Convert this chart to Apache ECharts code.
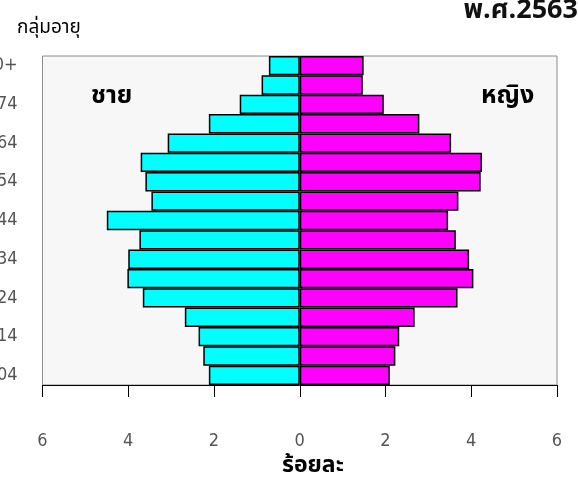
<!DOCTYPE html>
<html>
<head>
<meta charset="utf-8">
<script src="https://cdn.jsdelivr.net/npm/echarts@6/dist/echarts.min.js"></script>
<style>html,body{margin:0;padding:0;background:#fff}#c{width:578px;height:482px}</style>
</head>
<body>
<div id="c"></div>
<script>
const ageGroups = ['00-04','05-09','10-14','15-19','20-24','25-29','30-34','35-39','40-44','45-49','50-54','55-59','60-64','65-69','70-74','75-79','80+'];
const male = [2.12, 2.25, 2.36, 2.68, 3.66, 4.02, 4.00, 3.74, 4.50, 3.46, 3.60, 3.71, 3.08, 2.12, 1.40, 0.89, 0.72];
const female = [2.10, 2.23, 2.32, 2.68, 3.68, 4.05, 3.95, 3.64, 3.46, 3.70, 4.22, 4.25, 3.53, 2.79, 1.96, 1.47, 1.49];
const xTicks = [-6, 6, 2];
const titleText = 'พ.ศ.2563';
const yAxisTitle = 'กลุ่มอายุ';
const xAxisTitle = 'ร้อยละ';
const maleLabel = 'ชาย';
const femaleLabel = 'หญิง';

const thai = "'Noto Sans Thai','Noto Sans','DejaVu Sans',sans-serif";
const narrow = "'Liberation Sans Narrow','Arial Narrow','DejaVu Sans Condensed','Liberation Sans',sans-serif";

const chart = echarts.init(document.getElementById('c'), null, {renderer: 'canvas'});
chart.setOption({
  animation: false,
  backgroundColor: '#ffffff',
  grid: {left: 42.5, right: 21, top: 56, bottom: 97, containLabel: false, outerBoundsMode: 'none',
         show: true, backgroundColor: '#f7f7f7', borderColor: '#8c8c8c', borderWidth: 1},
  xAxis: {
    type: 'value', min: xTicks[0], max: xTicks[1], interval: xTicks[2],
    axisLine: {show: true, onZero: false, lineStyle: {color: '#000', width: 1}},
    axisTick: {show: true, inside: false, length: 12, lineStyle: {color: '#000'}},
    splitLine: {show: false},
    axisLabel: {margin: 47, color: '#555', fontFamily: narrow, fontSize: 18, formatter: v => String(Math.abs(v))}
  },
  yAxis: {
    type: 'category', data: ageGroups,
    axisLine: {show: false}, axisTick: {show: false},
    axisLabel: {interval: 1, margin: 25, color: '#555', fontFamily: narrow, fontSize: 18, padding: [0,0,7,0]}
  },
  series: [
    {name: 'male', type: 'bar', stack: 'p', data: male.map(v => -v), barCategoryGap: '0%',
     itemStyle: {color: '#00ffff', borderColor: '#000', borderWidth: 1.5}},
    {name: 'female', type: 'bar', stack: 'p', data: female, barCategoryGap: '0%',
     itemStyle: {color: '#ff00ff', borderColor: '#000', borderWidth: 1.5}}
  ],
  graphic: [
    {type: 'text', right: 0, top: -1, style: {text: titleText, font: "bold 27px " + thai, fill: '#111'}},
    {type: 'text', left: 17, top: 20, style: {text: yAxisTitle, font: "19px " + thai, fill: '#000'}},
    {type: 'text', left: 91, top: 85, style: {text: maleLabel, font: "bold 25px " + thai, fill: '#000'}},
    {type: 'text', left: 481, top: 85, style: {text: femaleLabel, font: "bold 25px " + thai, fill: '#000'}},
    {type: 'text', left: 282, top: 456, style: {text: xAxisTitle, font: "bold 23px " + thai, fill: '#000'}}
  ]
});
</script>
</body>
</html>
